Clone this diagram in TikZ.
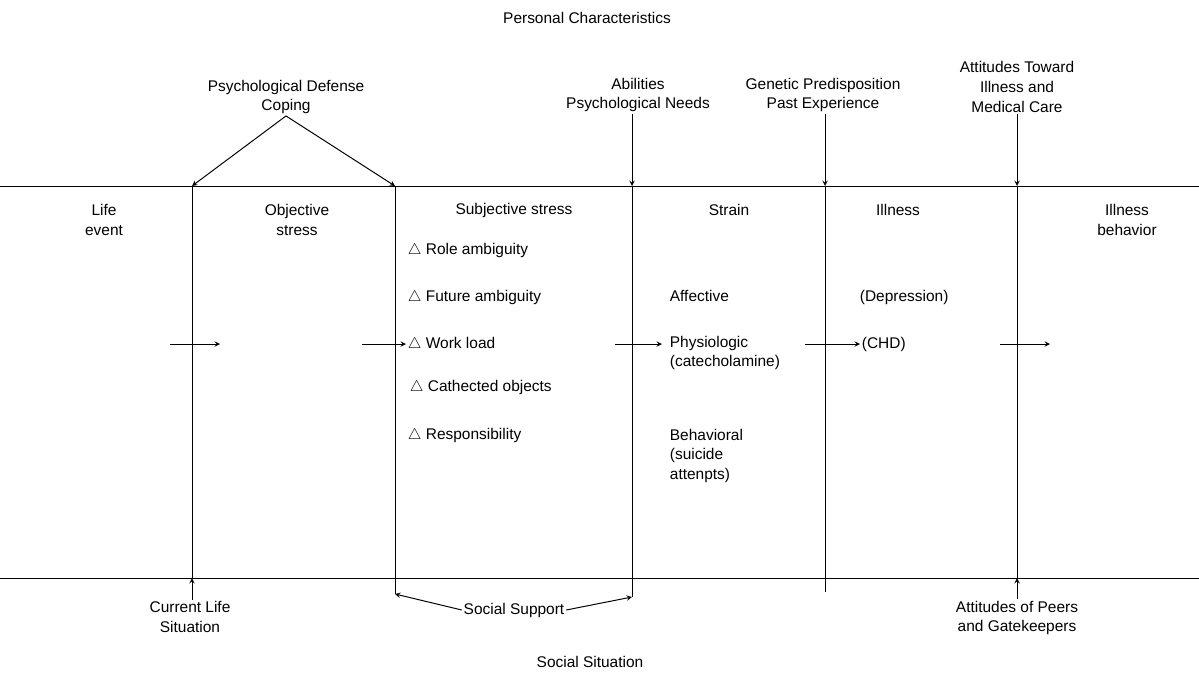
\documentclass[tikz,border=0pt]{standalone}
\usepackage{fontspec}
\setmainfont{Liberation Sans}
\usetikzlibrary{positioning, arrows, calc}

\begin{document}
\begin{tikzpicture}[x=0.025cm, y=-0.025cm, line width=0.7pt, >=stealth,
    lbl/.style={align=center, inner sep=1pt, font=\fontsize{11}{14}\selectfont},
    item/.style={anchor=west, align=left, inner sep=1pt, font=\fontsize{11}{14}\selectfont}]
    \useasboundingbox (0,0) rectangle (1199,673);

    % top and bottom lines
    \coordinate (tl) at (0,186);
    \coordinate (tr) at (1199,186);
    \coordinate (bl) at (0,578);
    \coordinate (br) at (1199,578);
    \draw (tl) -- (tr);
    \draw (bl) -- (br);

    % labels above
    \node[lbl] (pc) at (587,18) {Personal Characteristics}; % personal
    \node[lbl] (pd) at (286,97) {Psychological Defense\\Coping}; % defense
    \node[lbl] (ab) at (638,95) {Abilities\\Psychological Needs}; % abilities
    \node[lbl] (gp) at (823,95) {Genetic Predisposition\\Past Experience}; % genetic
    \node[lbl] (at) at (1017,87) {Attitudes Toward\\Illness and\\Medical Care}; % attitudes

    % column headings
    \node[lbl] (life) at (104,220) {Life\\event};
    \node[lbl] (obj) at (297,220) {Objective\\stress};
    \node[lbl] (subj) at (514,210) {Subjective stress};
    \node[lbl] (strain) at (729,210) {Strain};
    \node[lbl] (ill) at (898,210) {Illness};
    \node[lbl] (illb) at (1127,220) {Illness\\behavior};

    % subjective stress items
    \node[item] (role) at (406,250) {$\triangle$ Role ambiguity};
    \node[item] (fut) at (406,297) {$\triangle$ Future ambiguity};
    \node[item] (work) at (406,344) {$\triangle$ Work load};
    \node[item] (cath) at (408,387) {$\triangle$ Cathected objects};
    \node[item] (resp) at (406,435) {$\triangle$ Responsibility};

    % strain items
    \node[item] (aff) at (668,296) {Affective};
    \node[item, anchor=north west] (phys) at (668,334) {Physiologic\\(catecholamine)};
    \node[item, anchor=north west] (beh) at (668,427) {Behavioral\\(suicide\\attenpts)};

    % illness items
    \node[item] (dep) at (858,297) {(Depression)};
    \node[item] (chd) at (860,344) {(CHD)};

    % labels below
    \node[lbl] (cls) at (190,617) {Current Life\\Situation}; % current life
    \node[lbl] (ss) at (514,610) {Social Support}; % support
    \node[lbl] (ap) at (1017,618) {Attitudes of Peers\\and Gatekeepers}; % peers
    \node[lbl] (si) at (590,662) {Social Situation}; % social

    % vertical lines
    \coordinate (v1t) at (192,186);
    \coordinate (v1b) at (192,578);
    \coordinate (v2t) at (395,186);
    \coordinate (v2b) at (395,594);
    \coordinate (v3t) at (632,186);
    \coordinate (v3b) at (632,597);
    \coordinate (v4t) at (825,186);
    \coordinate (v4b) at (825,592);
    \coordinate (v5t) at (1017,186);
    \coordinate (v5b) at (1017,578);

    \draw (v1t) -- (v1b);
    \draw (v2t) -- (v2b);
    \draw (v3t) -- (v3b);
    \draw (v4t) -- (v4b);
    \draw (v5t) -- (v5b);

    \draw[->] (pd.south) -- (v1t);
    \draw[->] (pd.south) -- (v2t);
    \draw[->] (ab.south -| v3t) -- (v3t);
    \draw[->] (gp.south -| v4t) -- (v4t);
    \draw[->] (at.south -| v5t) -- (v5t);
    \draw[->] (cls.north -| v1b) -- (v1b);
    \draw[->] (ap.north) -- (v5b);
    \draw[->] (ss.west) -- (v2b);
    \draw[->] (ss.east) -- (v3b);

    % flow arrows
    \coordinate (f1) at (170,344);
    \coordinate (f1e) at (220,344);
    \coordinate (f2) at (362,344);
    \coordinate (f3) at (615,344);
    \coordinate (f3e) at (662,344);
    \coordinate (f4) at (805,344);
    \coordinate (f5) at (1000,344);
    \coordinate (f5e) at (1050,344);
    \draw[->] (f1) -- (f1e);
    \draw[->] (f2) -- (work.west);
    \draw[->] (f3) -- (f3e);
    \draw[->] (f4) -- (chd.west);
    \draw[->] (f5) -- (f5e);
\end{tikzpicture}
\end{document}
